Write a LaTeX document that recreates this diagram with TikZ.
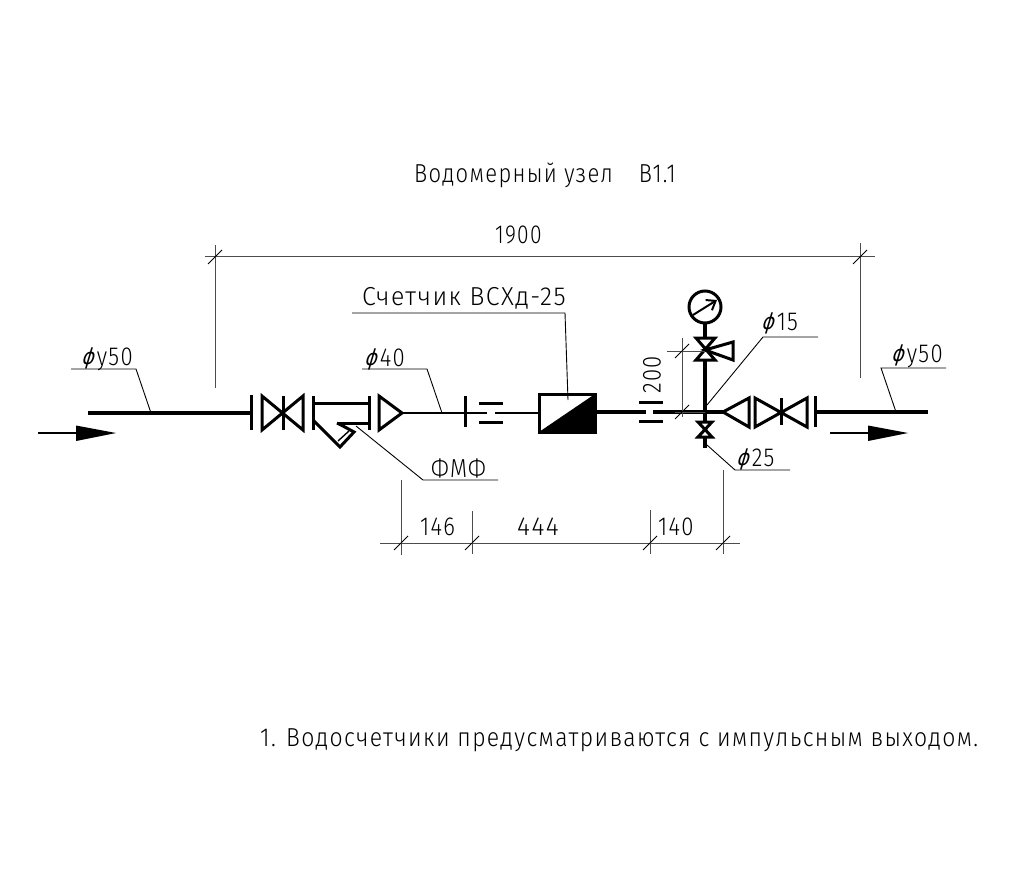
\documentclass[tikz,border=0pt]{standalone}
\usepackage{fontspec}
\usetikzlibrary{arrows.meta}
\setmainfont[UprightFont={* Light},LetterSpace=6]{Fira Sans}
\newfontfamily\symfont[FakeSlant=0.35]{DejaVu Sans}
\newcommand{\dia}{{\symfont\fontsize{22}{27}\selectfont\kern1pt\raisebox{1pt}{ϕ}\kern4pt}}
\tikzset{
  pipe/.style={line width=3.8pt},
  thinpipe/.style={line width=2.8pt},
  fitting/.style={line width=3pt, line join=miter},
  dimline/.style={line width=1pt, draw=black!70},
  leader/.style={line width=0.9pt},
  tick/.style={line width=0.9pt},
  label/.style={font=\fontsize{26}{31}\selectfont, inner sep=0pt, anchor=west, xscale=.85, transform shape}
}
\begin{document}
\begin{tikzpicture}[x=1pt, y=-1pt]
    \useasboundingbox (0,0) rectangle (1011,874);
    % Texts
    \node[label, xscale=.995] (title) at (414,175) {Водомерный узел~~~\,В1.1};
    \node[label, xscale=1.04] (note) at (260,740) {1. Водосчетчики предусматриваются с импульсным выходом.};
    \node[label, xscale=.95] (len) at (495,235) {1900};
    \node[label] (inleft) at (80,359) {\dia у50};
    \node[label] (inright) at (890,356) {\dia у50};
    \node[label] (d40) at (363,359) {\dia 40};
    \node[label] (filter) at (431,468) {ФМФ};
    \node[label, xscale=1.125] (meter) at (362,298) {Счетчик ВСХд-25};
    \node[label] (d15) at (760,323) {\dia 15};
    \node[label] (d25) at (735,459) {\dia 25};
    \node[label] (a146) at (420,527) {146};
    \node[label, xscale=1.12] (a444) at (517,527) {444};
    \node[label] (a140) at (658,527) {140};
    \node[rotate=90, label, anchor=center] (a200) at (652,375) {200};
    % Pipes
    \coordinate (inlet) at (88,413);
    \coordinate (flange1) at (251,413);
    \coordinate (red1) at (402,413);
    \coordinate (tap) at (705,412);
    \draw[pipe] (inlet) -- (flange1);
    \draw[thinpipe] (red1) -- (487,413);
    \draw[thinpipe] (495,413) -- (539,413);
    \draw[pipe] (595,412) -- (646,412);
    \draw[pipe] (653,412) -- (723,412);
    \draw[pipe] (815,412) -- (928,412);
    \draw[pipe] (tap) -- (705,323);
    \draw[pipe] (tap) -- (705,448);
    % Fittings, left
    \draw[fitting] (251,395) -- (251,430);
    \draw[fitting, fill=white] (262,396) -- (303,430) -- (303,396) -- (262,430) -- cycle;
    \draw[fitting] (283,396) -- (283,430);
    \draw[fitting] (313,396) -- (313,430);
    \draw[fitting] (369,396) -- (369,430);
    \draw[fitting] (313,403) -- (369,403);
    \draw[fitting] (337,423) -- (369,423);
    \draw[fitting] (313,420) -- (340,447) -- (354,432) -- (343,426) -- (337,423);
    \draw[line width=1.4pt] (338,441) -- (349,431);
    \draw[fitting, fill=white] (379,396) -- (402,413) -- (379,430) -- cycle;
    \draw[fitting] (465,396) -- (465,427);
    \draw[fitting] (479,403) -- (503,403);
    \draw[fitting] (479,422) -- (503,422);
    % Meter
    \draw[line width=3pt, fill=white] (539,394) rectangle (595,432);
    \fill (539,432) -- (595,394) -- (595,432) -- cycle;
    % Fittings, right
    \draw[fitting] (639,402) -- (663,402);
    \draw[fitting] (639,421) -- (663,421);
    \draw[fitting, fill=white] (723,412) -- (749,398) -- (749,427) -- cycle;
    \draw[fitting, fill=white] (755,398) -- (807,427) -- (807,398) -- (755,427) -- cycle;
    \draw[fitting] (781,398) -- (781,425);
    \draw[fitting] (815,396) -- (815,427);
    % Gauge and valves
    \draw[fitting, fill=white] (705,307) circle (16);
    \draw[line width=2pt, -{Straight Barb[length=8pt,width=12pt]}] (693,315) -- (717,300);
    \draw[fitting, fill=white] (696,338) -- (715,338) -- (696,360) -- (715,360) -- cycle;
    \draw[fitting, fill=white] (705,350) -- (733,342) -- (733,360) -- cycle;
    \draw[fitting, fill=white] (698,422) -- (712,422) -- (698,437) -- (712,437) -- cycle;
    % Flow arrows
    \foreach \xa/\xb/\xc in {38/76/116, 830/868/908} {
      \draw[line width=2.6pt] (\xa,433) -- (\xb,433);
      \fill (\xb,425.5) -- (\xc,433) -- (\xb,441) -- cycle;
    }
    % Leaders
    \draw[leader] (151,413) -- (136,369) -- (71,369);
    \draw[leader] (896,412) -- (881,368) -- (946,368);
    \draw[leader] (442,413) -- (427,369) -- (362,369);
    \draw[leader] (356,426) -- (423,480) -- (498,480);
    \draw[leader] (568,400) -- (565,313) -- (352,313);
    \draw[leader] (707,405) -- (763,337) -- (818,337);
    \draw[leader] (707,445) -- (735,470) -- (790,470);
    % Dimensions
    \draw[dimline] (205,257) -- (875,257);
    \draw[dimline] (215,245) -- (215,388);
    \draw[dimline] (860,243) -- (860,378);
    \draw[dimline] (380,543) -- (740,543);
    \draw[dimline] (401,480) -- (401,555);
    \draw[dimline] (472,511) -- (472,554);
    \draw[dimline] (650,510) -- (650,554);
    \draw[dimline] (723,470) -- (723,554);
    \draw[dimline] (682,338) -- (682,417);
    \draw[dimline] (667,351) -- (705,351);
    \draw[dimline] (675,412) -- (705,412);
    \foreach \x/\y in {215/257, 860/257, 401/543, 472/543, 650/543, 723/543, 682/351, 682/412} {
      \draw[tick] (\x-7,\y+7) -- (\x+7,\y-7);
    }
\end{tikzpicture}
\end{document}
